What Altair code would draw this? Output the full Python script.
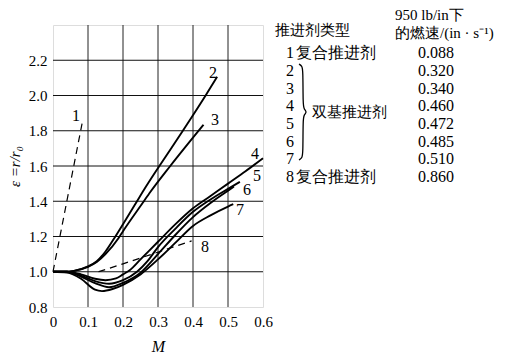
import altair as alt
import pandas as pd

# ---------------- data ----------------
series_ids = ["1", "2", "3", "4", "5", "6", "7", "8"]
dashed_ids = ["1", "8"]

c1_x = [0.0, 0.083]
c1_y = [1.0, 1.84]
c2_x = [0.0, 0.03, 0.06, 0.1, 0.125, 0.15, 0.175, 0.2, 0.237, 0.26, 0.304, 0.371, 0.436, 0.469]
c2_y = [1.0, 1.0, 1.005, 1.03, 1.06, 1.115, 1.19, 1.27, 1.39, 1.465, 1.6, 1.8, 2.0, 2.107]
c3_x = [0.0, 0.03, 0.06, 0.1, 0.125, 0.15, 0.187, 0.2, 0.256, 0.279, 0.335, 0.43]
c3_y = [1.0, 1.0, 1.005, 1.028, 1.055, 1.1, 1.19, 1.23, 1.39, 1.455, 1.6, 1.834]
c4_x = [0.0, 0.04, 0.08, 0.12, 0.15, 0.18, 0.2, 0.22, 0.25, 0.3, 0.35, 0.4, 0.45, 0.5, 0.55, 0.6]
c4_y = [1.0, 1.0, 0.985, 0.96, 0.952, 0.962, 0.985, 1.01, 1.07, 1.17, 1.27, 1.36, 1.43, 1.5, 1.57, 1.644]
c5_x = [0.0, 0.04, 0.08, 0.12, 0.16, 0.2, 0.24, 0.27, 0.3, 0.35, 0.4, 0.45, 0.5, 0.534]
c5_y = [1.0, 1.0, 0.978, 0.947, 0.932, 0.952, 1.0, 1.06, 1.14, 1.245, 1.34, 1.41, 1.47, 1.51]
c6_x = [0.0, 0.04, 0.08, 0.12, 0.16, 0.2, 0.25, 0.3, 0.35, 0.4, 0.45, 0.5, 0.517]
c6_y = [1.0, 1.0, 0.972, 0.935, 0.912, 0.937, 0.995, 1.1, 1.21, 1.31, 1.39, 1.46, 1.484]
c7_x = [0.0, 0.04, 0.08, 0.12, 0.14, 0.17, 0.2, 0.25, 0.3, 0.35, 0.4, 0.45, 0.5, 0.515]
c7_y = [1.0, 0.995, 0.96, 0.898, 0.89, 0.902, 0.926, 0.985, 1.07, 1.165, 1.26, 1.32, 1.37, 1.383]
c8_x = [0.13, 0.2, 0.25, 0.31, 0.396]
c8_y = [1.0, 1.045, 1.078, 1.118, 1.175]

label_x = [0.066, 0.457, 0.463, 0.577, 0.583, 0.554, 0.534, 0.434]
label_y = [1.886, 2.128, 1.861, 1.668, 1.543, 1.464, 1.35, 1.14]

x_ticks = [0.0, 0.1, 0.2, 0.3, 0.4, 0.5, 0.6]
y_ticks = [0.8, 1.0, 1.2, 1.4, 1.6, 1.8, 2.0, 2.2]

# table on the right
table_header_1 = "推进剂类型"
table_header_2a = "950 lb/in下"
table_header_2b = "的燃速/(in · s⁻¹)"
row_ids = ["1", "2", "3", "4", "5", "6", "7", "8"]
row_names = ["复合推进剂", "", "", "", "", "", "", "复合推进剂"]
group_name = "双基推进剂"
burn_rates = ["0.088", "0.320", "0.340", "0.460", "0.472", "0.485", "0.510", "0.860"]

# brace outline (pixel offsets from the plot's top-left corner)
brace_px = [246, 249, 250, 250, 251, 254, 251, 250, 250, 249, 246]
brace_py = [39, 41, 45, 80, 84, 87, 90, 94, 129, 133, 135]

# ---------------- layout ----------------
W, H = 210, 282
X0, X1 = 0.0, 0.6
Y0, Y1 = 0.8, 2.4


def px_to_x(p):
    return X0 + p * (X1 - X0) / W


def py_to_y(p):
    return Y1 - p * (Y1 - Y0) / H


xs = [c1_x, c2_x, c3_x, c4_x, c5_x, c6_x, c7_x, c8_x]
ys = [c1_y, c2_y, c3_y, c4_y, c5_y, c6_y, c7_y, c8_y]
rows = []
for sid, xx, yy in zip(series_ids, xs, ys):
    for i, (a, b) in enumerate(zip(xx, yy)):
        rows.append({"s": sid, "x": a, "y": b, "o": i})
df = pd.DataFrame(rows)
df_solid = df[~df["s"].isin(dashed_ids)]
df_dash = df[df["s"].isin(dashed_ids)]
df_lab = pd.DataFrame({"s": series_ids, "x": label_x, "y": label_y})

SERIF = "Liberation Serif"

xsc = alt.Scale(domain=[X0, X1], nice=False, zero=False)
ysc = alt.Scale(domain=[Y0, Y1], nice=False, zero=False)

xax = alt.Axis(values=x_ticks, format=".1f",
               labelExpr="datum.value == 0 ? '0' : datum.label",
               title="M", titleFontStyle="italic", titleFontWeight="normal", titleFont=SERIF,
               titleFontSize=16, titlePadding=9, labelFont=SERIF, labelFontSize=15,
               labelPadding=7, labelColor="black", titleColor="black", ticks=False, domain=False,
               grid=False, labelFlush=False, labelOverlap=False)
yax = alt.Axis(values=y_ticks, format=".1f", title="ε =r/r₀", titleFontStyle="italic",
               titleFontWeight="normal", titleFont=SERIF, titleFontSize=15, titlePadding=6,
               labelFont=SERIF, labelFontSize=15, labelPadding=6, labelColor="black",
               titleColor="black", ticks=False, domain=False, grid=False, labelOverlap=False)

X = alt.X("x:Q", scale=xsc, axis=xax)
Y = alt.Y("y:Q", scale=ysc, axis=yax)

# grid lines drawn from the tick lists
vgrid = alt.Chart(pd.DataFrame({"g": x_ticks[1:-1]})).mark_rule(color="#222", strokeWidth=1).encode(
    x=alt.X("g:Q", scale=xsc, axis=xax))
hgrid = alt.Chart(pd.DataFrame({"g": y_ticks[1:]})).mark_rule(color="#111", strokeWidth=1).encode(
    y=alt.Y("g:Q", scale=ysc, axis=yax))

solid = alt.Chart(df_solid).mark_line(color="black", strokeWidth=1.9, interpolate="monotone").encode(
    x=X, y=Y, detail="s:N", order="o:Q")

dashed = alt.Chart(df_dash).mark_line(color="black", strokeWidth=1.2, strokeDash=[7, 5],
                                      interpolate="monotone").encode(
    x=X, y=Y, detail="s:N", order="o:Q")

labels = alt.Chart(df_lab).mark_text(font=SERIF, fontSize=16, color="black").encode(
    x=X, y=Y, text="s:N")

# table (placed to the right of the plot, positions converted into the chart's scales)
ROW0, DY = 28.3, 17.67
tbl = pd.DataFrame({
    "id": row_ids,
    "name": row_names,
    "rate": burn_rates,
    "ty": [py_to_y(ROW0 + i * DY) for i in range(len(row_ids))],
})
tbl["idx"] = px_to_x(233)
tbl["namex"] = px_to_x(243)
tbl["ratex"] = px_to_x(365)

txt = dict(font=SERIF, fontSize=16, align="left", baseline="middle", color="black")
t_id = alt.Chart(tbl).mark_text(**txt).encode(
    x=alt.X("idx:Q", scale=xsc, axis=xax), y=alt.Y("ty:Q", scale=ysc, axis=yax), text="id:N")
t_name = alt.Chart(tbl).mark_text(**txt).encode(
    x=alt.X("namex:Q", scale=xsc, axis=xax), y=alt.Y("ty:Q", scale=ysc, axis=yax), text="name:N")
t_rate = alt.Chart(tbl).mark_text(**txt).encode(
    x=alt.X("ratex:Q", scale=xsc, axis=xax), y=alt.Y("ty:Q", scale=ysc, axis=yax), text="rate:N")

hdr = pd.DataFrame({
    "t": [table_header_1, table_header_2a, table_header_2b, group_name],
    "hx": [px_to_x(v) for v in [222, 342, 342, 259]],
    "hy": [py_to_y(v) for v in [5, -10, 8, 87]],
})
t_hdr = alt.Chart(hdr).mark_text(font=SERIF, fontSize=15, align="left", baseline="middle",
                                 color="black").encode(
    x=alt.X("hx:Q", scale=xsc, axis=xax), y=alt.Y("hy:Q", scale=ysc, axis=yax), text="t:N")

brace_df = pd.DataFrame({"bx": [px_to_x(v) for v in brace_px],
                         "by": [py_to_y(v) for v in brace_py],
                         "o": list(range(len(brace_px)))})
brace = alt.Chart(brace_df).mark_line(color="black", strokeWidth=1.3, interpolate="basis").encode(
    x=alt.X("bx:Q", scale=xsc, axis=xax), y=alt.Y("by:Q", scale=ysc, axis=yax), order="o:Q")

chart = alt.layer(vgrid, hgrid, dashed, solid, labels, t_id, t_name, t_rate, t_hdr, brace).properties(
    width=W, height=H,
    autosize=alt.AutoSizeParams(type="none"),
    padding={"left": 45, "top": 17, "right": 255, "bottom": 52},
).configure_view(stroke="black", strokeWidth=1.5).configure(background="white")

chart.save("out.html", embed_options={"renderer": "svg", "actions": False})
